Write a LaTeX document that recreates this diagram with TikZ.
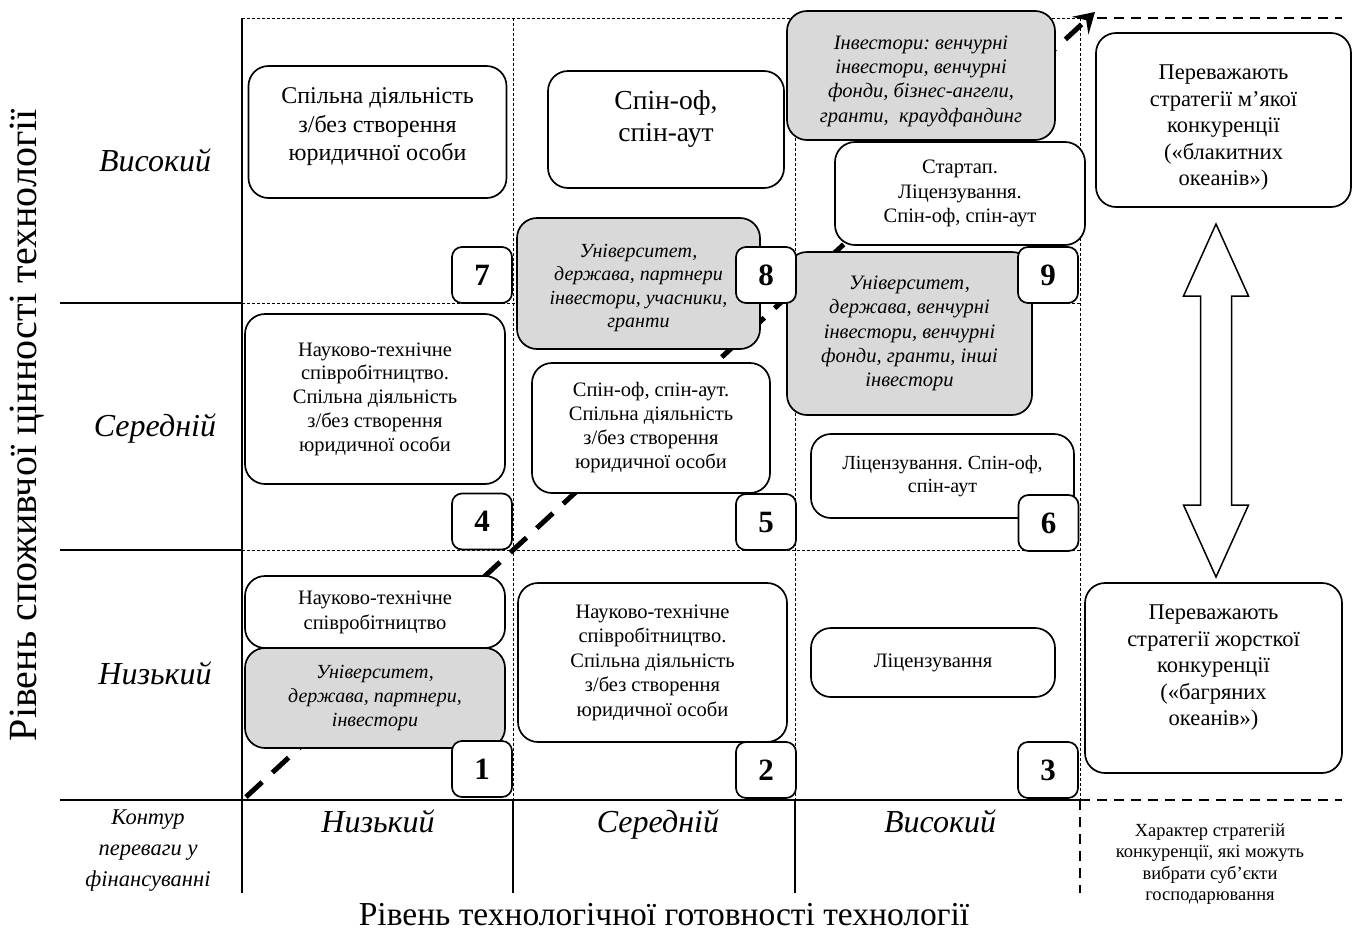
\documentclass[tikz,border=0pt]{standalone}
\usepackage{fontspec}
\setmainfont{Liberation Serif}
\usetikzlibrary{arrows.meta}
\definecolor{panel}{HTML}{D9D9D9}
\newcommand\fsz[2]{\fontsize{#1}{#2}\selectfont}
\frenchspacing

\tikzset{
  card/.style={draw, line width=1.7pt, rounded corners=20pt, fill=white,
               align=center, inner sep=0pt},
  shaded/.style={card, fill=panel},
  sz/.style 2 args={minimum width=#1pt, minimum height=#2pt},
  caption/.style={align=center, inner sep=0pt},
  tag/.style={draw, line width=1.7pt, rounded corners=10pt, fill=white,
              minimum width=60pt, minimum height=56pt, inner sep=0pt,
              font=\fsz{31}{31}\bfseries},
  solidrule/.style={line width=2.3pt},
  thinrule/.style={line width=0.8pt, dash pattern=on 3pt off 2pt},
  boldrule/.style={line width=1.8pt, dash pattern=on 10pt off 7pt},
  level/.style={anchor=base, font=\fsz{32}{32}\itshape},
  trend/.style={line width=5pt, dash pattern=on 22pt off 14pt,
                -{Stealth[length=20pt,width=24pt,inset=8pt]}},
}

\begin{document}
\begin{tikzpicture}[x=1pt, y=-1pt]
\useasboundingbox (0,0) rectangle (1355,938);

% ---- grid ----
\draw[thinrule] (242,18) -- (1080,18);
\draw[thinrule] (242,303) -- (1080,303);
\draw[thinrule] (242,550) -- (1080,550);
\draw[thinrule] (513,18) -- (513,800);
\draw[thinrule] (795,18) -- (795,800);
\draw[thinrule] (1080,18) -- (1080,800);
\draw[solidrule] (242,18) -- (242,893);
\draw[solidrule] (60,303) -- (242,303);
\draw[solidrule] (60,550) -- (242,550);
\draw[solidrule] (60,800) -- (1080,800);
\draw[solidrule] (513,800) -- (513,893);
\draw[solidrule] (795,800) -- (795,893);
\draw[boldrule] (1097,18) -- (1342,18);
\draw[boldrule] (1080,800) -- (1342,800);
\draw[boldrule] (1080,800) -- (1080,893);

% ---- diagonal trend of financing advantage ----
\coordinate (tstart) at (246,797);
\coordinate (tend) at (1095,12);
\draw[trend] (tstart) -- (tend);

% ---- column 1 ----
\node[card, sz={258}{132}] (c7) at (377.5,132) {};
\node[caption, font=\fsz{24}{28.5}] (c7t) at (377.5,127)
  {Спільна діяльність\\з/без створення\\юридичної особи};
\node[card, sz={260}{170}, font=\fsz{20.5}{23.7}] (c4) at (375,399)
  {Науково-технічне\\співробітництво.\\Спільна діяльність\\з/без створення\\юридичної особи};
\node[card, sz={260}{72}, font=\fsz{20.5}{25}] (c1w) at (375,612)
  {Науково-технічне\\співробітництво};
\node[shaded, sz={260}{100}, font=\fsz{20}{24}\itshape] (c1g) at (375,698)
  {Університет,\\держава, партнери,\\інвестори};

% ---- column 2 ----
\node[card, sz={236}{117}] (c8) at (666,129.5) {};
\node[caption, font=\fsz{27.5}{32}] (c8t) at (666,119) {Спін-оф,\\спін-аут};
\node[shaded, sz={243}{131}] (c8g) at (638.5,283.5) {};
\node[caption, font=\fsz{20}{23.5}\itshape] (c8gt) at (638.5,288)
  {Університет,\\держава, партнери\\інвестори, учасники,\\гранти};
\node[card, sz={238}{130}, font=\fsz{20.5}{24}] (c5) at (651,428)
  {Спін-оф, спін-аут.\\Спільна діяльність\\з/без створення\\юридичної особи};
\node[card, sz={269}{159}, font=\fsz{20.5}{24.5}] (c2) at (652.5,662.5)
  {Науково-технічне\\співробітництво.\\Спільна діяльність\\з/без створення\\юридичної особи};

% ---- column 3 ----
\node[shaded, sz={268}{129}] (c9g) at (921,75.5) {};
\node[caption, font=\fsz{20.5}{24.3}\itshape] (c9gt) at (921,81)
  {Інвестори: венчурні\\інвестори, венчурні\\фонди, бізнес-ангели,\\гранти,\ \ краудфандинг};
\node[card, sz={250}{103}, font=\fsz{20.5}{24.5}] (c9) at (960,193.5)
  {Стартап.\\Ліцензування.\\Спін-оф, спін-аут};
\node[shaded, sz={245}{163}, font=\fsz{20.5}{24.3}\itshape] (c6g) at (909.5,333.5)
  {Університет,\\держава, венчурні\\інвестори, венчурні\\фонди, гранти, інші\\інвестори};
\node[card, sz={263}{84}, font=\fsz{20}{23.5}] (c6) at (942.5,476)
  {Ліцензування. Спін-оф,\\спін-аут};
\node[card, sz={244}{69}, font=\fsz{20.5}{24}] (c3) at (933,662.5) {Ліцензування};

% ---- cell numbers ----
\node[tag] (n7) at (482,275) {7};
\node[tag] (n4) at (482,521.5) {4};
\node[tag] (n1) at (482,769) {1};
\node[tag] (n8) at (766,275) {8};
\node[tag] (n5) at (766,522) {5};
\node[tag] (n2) at (766,770) {2};
\node[tag] (n9) at (1048,275) {9};
\node[tag] (n6) at (1048.5,523) {6};
\node[tag] (n3) at (1048,770) {3};

% ---- competition strategies ----
\node[card, sz={255}{174}] (soft) at (1223.5,120) {};
\node[caption, font=\fsz{22.5}{26.5}] (softt) at (1223.5,128)
  {Переважають\\стратегії м’якої\\конкуренції\\(«блакитних\\океанів»)};
\node[card, sz={257}{190}] (hard) at (1213.5,678) {};
\node[caption, font=\fsz{22.5}{26.5}] (hardt) at (1213.5,668)
  {Переважають\\стратегії жорсткої\\конкуренції\\(«багряних\\океанів»)};
\draw[line width=1.5pt, fill=white]
  (1216,224) -- (1248.5,296) -- (1231.5,296) -- (1231.5,505) -- (1248.5,505)
  -- (1216,577) -- (1183.5,505) -- (1200.5,505) -- (1200.5,296)
  -- (1183.5,296) -- cycle;

% ---- level labels ----
\node[level] (rhigh) at (155,171) {Високий};
\node[level] (rmid) at (155,436) {Середній};
\node[level] (rlow) at (155,684) {Низький};
\node[level] (clow) at (378,832) {Низький};
\node[level] (cmid) at (658,832) {Середній};
\node[level] (chigh) at (940,832) {Високий};
\node[caption, font=\fsz{22.5}{31}\itshape] (contour) at (148,851)
  {Контур\\переваги у\\фінансуванні};
\node[caption, font=\fsz{18.5}{21.5}] (nature) at (1210,864)
  {Характер стратегій\\конкуренції, які можуть\\вибрати суб’єкти\\господарювання};

% ---- axis titles ----
\node[font=\fsz{33.5}{33.5}] (xaxis) at (664,915)
  {Рівень технологічної готовності технології};
\node[rotate=90, anchor=base, font=\fsz{40}{40}] (yaxis) at (36,425)
  {Рівень споживчої цінності технології};
\end{tikzpicture}
\end{document}
